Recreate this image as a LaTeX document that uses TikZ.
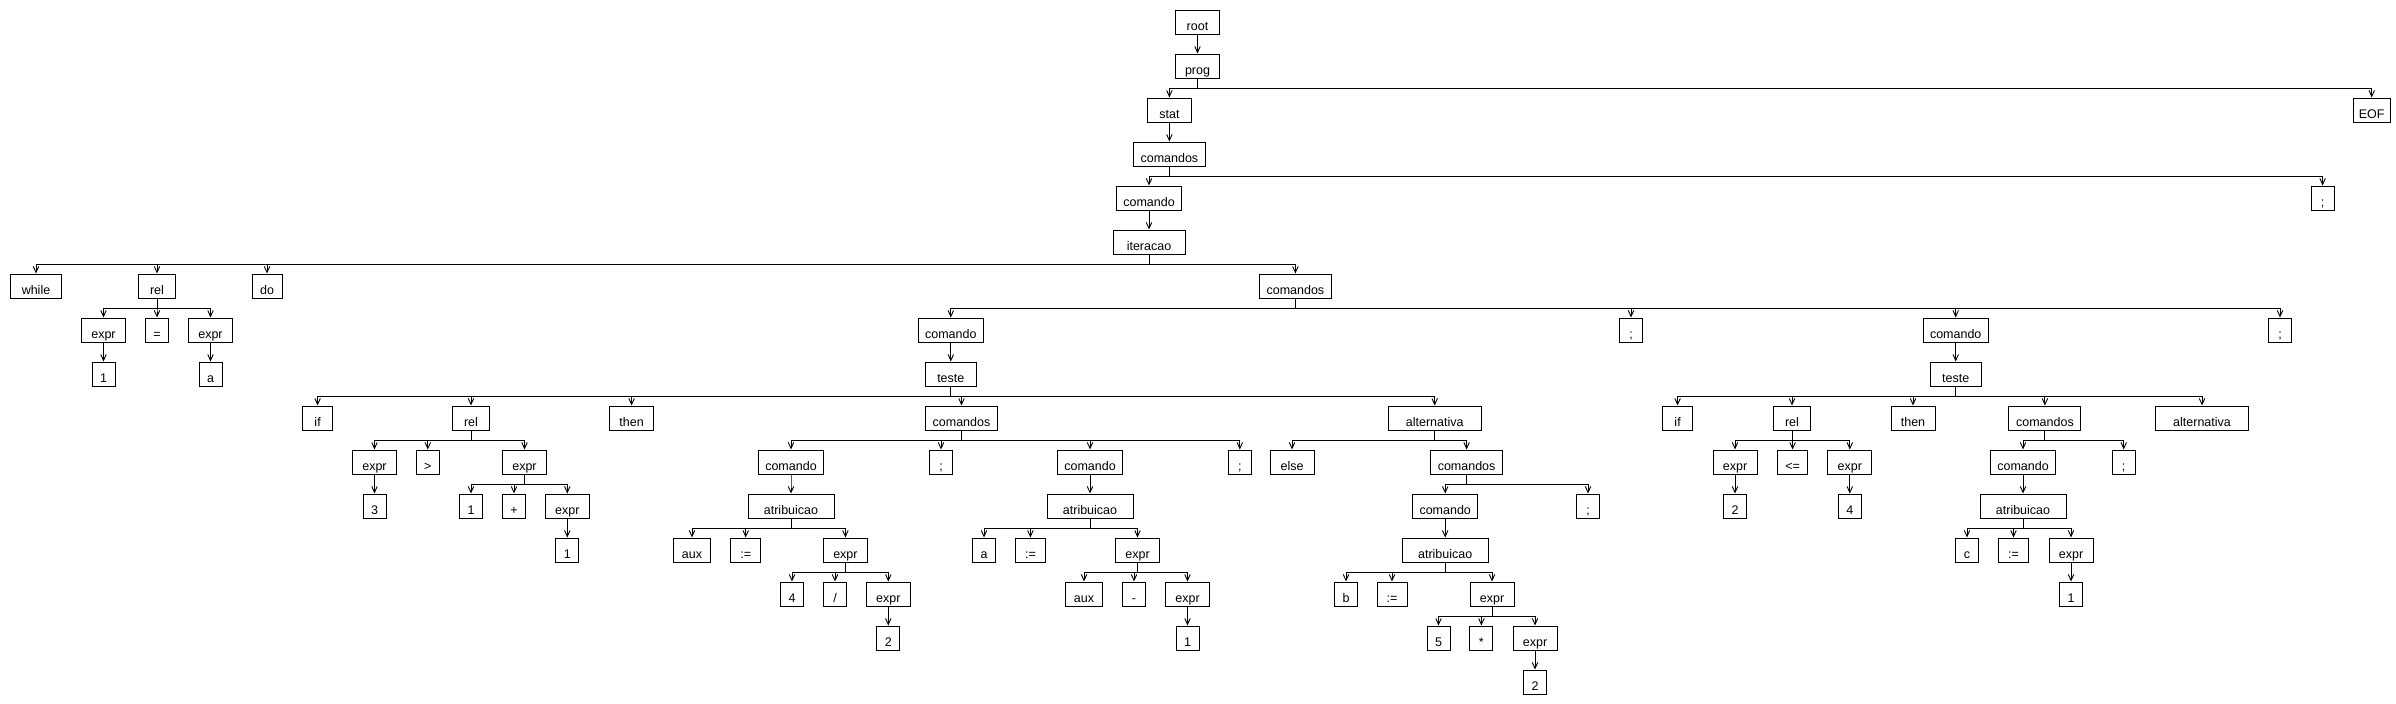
\documentclass[tikz,border=0pt]{standalone}
\usepackage{fontspec}
\setmainfont{Liberation Sans}
\usetikzlibrary{arrows.meta}
\tikzset{
  bx/.style={draw, line width=1pt, minimum width=#1, minimum height=24pt, inner sep=0pt,
    text height=16.5pt, text depth=0pt, font=\fontsize{12.5}{14}\selectfont},
  edge/.style={line width=0.9pt, -{Straight Barb[length=6pt,width=5.5pt]}}
}
\newcommand\kids[2]{\foreach \kid in {#2}{\draw[edge] (#1.south) -- ++(0,10) -| (\kid.north);}}
\begin{document}
\begin{tikzpicture}[x=1pt,y=-1pt]
\fill[white] (0,0) rectangle (2396,704);
\useasboundingbox (0,0) rectangle (2396,704);
% L0-L5
\node[bx=44] (root) at (1197.5,22) {root};
\node[bx=44] (prog) at (1197.5,66) {prog};
\node[bx=44] (stat) at (1169.4,110) {stat};
\node[bx=37] (eof) at (2371.7,110) {EOF};
\node[bx=72] (cmds1) at (1169.4,154) {comandos};
\node[bx=65] (cmd1) at (1149,198) {comando};
\node[bx=23] (semi1) at (2322.6,198) {;};
\node[bx=72] (iter) at (1149,242) {iteracao};
% L6
\node[bx=51] (while) at (36,286) {while};
\node[bx=37] (rel1) at (157,286) {rel};
\node[bx=30] (do) at (267,286) {do};
\node[bx=72] (cmds2) at (1295.4,286) {comandos};
% L7
\node[bx=44] (ex1) at (103.5,330) {expr};
\node[bx=23] (eq) at (157,330) {=};
\node[bx=44] (ex2) at (210.5,330) {expr};
\node[bx=65] (cmdA) at (950.8,330) {comando};
\node[bx=23] (semiA) at (1631,330) {;};
\node[bx=65] (cmdB) at (1955.7,330) {comando};
\node[bx=23] (semiB) at (2280,330) {;};
% L8
\node[bx=23] (one1) at (103.5,374) {1};
\node[bx=23] (aa) at (210.5,374) {a};
\node[bx=51] (tesA) at (950.8,374) {teste};
\node[bx=51] (tesB) at (1955.7,374) {teste};
% L9
\node[bx=30] (ifA) at (317.6,418) {if};
\node[bx=37] (relA) at (471,418) {rel};
\node[bx=44] (thenA) at (631.6,418) {then};
\node[bx=72] (cmdsA) at (961.5,418) {comandos};
\node[bx=93] (altA) at (1434.7,418) {alternativa};
\node[bx=30] (ifB) at (1677.6,418) {if};
\node[bx=37] (relB) at (1792,418) {rel};
\node[bx=44] (thenB) at (1913,418) {then};
\node[bx=72] (cmdsB) at (2044.9,418) {comandos};
\node[bx=93] (altB) at (2202,418) {alternativa};
% L10
\node[bx=44] (exA1) at (374.5,462) {expr};
\node[bx=23] (gt) at (427.8,462) {>};
\node[bx=44] (exA2) at (524.5,462) {expr};
\node[bx=65] (cmdA1) at (791,462) {comando};
\node[bx=23] (semiA1) at (941,462) {;};
\node[bx=65] (cmdA2) at (1090,462) {comando};
\node[bx=23] (semiA2) at (1239.8,462) {;};
\node[bx=44] (elseA) at (1292,462) {else};
\node[bx=72] (cmdsA3) at (1466.6,462) {comandos};
\node[bx=44] (exB1) at (1735,462) {expr};
\node[bx=30] (le) at (1792.6,462) {<=};
\node[bx=44] (exB2) at (1849.8,462) {expr};
\node[bx=65] (cmdB1) at (2023,462) {comando};
\node[bx=23] (semiB1) at (2123.7,462) {;};
% L11
\node[bx=23] (three) at (374.5,506) {3};
\node[bx=23] (oneA) at (471,506) {1};
\node[bx=23] (plus) at (514,506) {+};
\node[bx=44] (exA3) at (567.3,506) {expr};
\node[bx=86] (atA1) at (791,506) {atribuicao};
\node[bx=86] (atA2) at (1090,506) {atribuicao};
\node[bx=65] (cmdA3) at (1445.2,506) {comando};
\node[bx=23] (semiA3) at (1588,506) {;};
\node[bx=23] (two1) at (1735,506) {2};
\node[bx=23] (four1) at (1849.8,506) {4};
\node[bx=86] (atB1) at (2023,506) {atribuicao};
% L12
\node[bx=23] (oneB) at (567.3,550) {1};
\node[bx=37] (aux1) at (692,550) {aux};
\node[bx=30] (as1) at (745.7,550) {:=};
\node[bx=44] (exA4) at (845.4,550) {expr};
\node[bx=23] (va) at (984,550) {a};
\node[bx=30] (as2) at (1030.4,550) {:=};
\node[bx=44] (exA5) at (1137.5,550) {expr};
\node[bx=86] (atA3) at (1445.2,550) {atribuicao};
\node[bx=23] (vc) at (1967,550) {c};
\node[bx=30] (as3) at (2013.5,550) {:=};
\node[bx=44] (exB3) at (2071,550) {expr};
% L13
\node[bx=23] (four2) at (792,594) {4};
\node[bx=23] (slash) at (835,594) {/};
\node[bx=44] (exA6) at (888.3,594) {expr};
\node[bx=37] (aux2) at (1084,594) {aux};
\node[bx=23] (minus) at (1134,594) {-};
\node[bx=44] (exA7) at (1187.5,594) {expr};
\node[bx=23] (vb) at (1346,594) {b};
\node[bx=30] (as4) at (1392,594) {:=};
\node[bx=44] (exA8) at (1492,594) {expr};
\node[bx=23] (oneC) at (2071,594) {1};
% L14
\node[bx=23] (two2) at (888.3,638) {2};
\node[bx=23] (oneD) at (1187.5,638) {1};
\node[bx=23] (five) at (1438.5,638) {5};
\node[bx=23] (star) at (1481.4,638) {*};
\node[bx=44] (exA9) at (1535,638) {expr};
% L15
\node[bx=23] (two3) at (1535,682) {2};
% edges
\kids{root}{prog}
\kids{prog}{stat,eof}
\kids{stat}{cmds1}
\kids{cmds1}{cmd1,semi1}
\kids{cmd1}{iter}
\kids{iter}{while,rel1,do,cmds2}
\kids{rel1}{ex1,eq,ex2}
\kids{ex1}{one1}
\kids{ex2}{aa}
\kids{cmds2}{cmdA,semiA,cmdB,semiB}
\kids{cmdA}{tesA}
\kids{tesA}{ifA,relA,thenA,cmdsA,altA}
\kids{relA}{exA1,gt,exA2}
\kids{exA1}{three}
\kids{exA2}{oneA,plus,exA3}
\kids{exA3}{oneB}
\kids{cmdsA}{cmdA1,semiA1,cmdA2,semiA2}
\kids{cmdA1}{atA1}
\kids{atA1}{aux1,as1,exA4}
\kids{exA4}{four2,slash,exA6}
\kids{exA6}{two2}
\kids{cmdA2}{atA2}
\kids{atA2}{va,as2,exA5}
\kids{exA5}{aux2,minus,exA7}
\kids{exA7}{oneD}
\kids{altA}{elseA,cmdsA3}
\kids{cmdsA3}{cmdA3,semiA3}
\kids{cmdA3}{atA3}
\kids{atA3}{vb,as4,exA8}
\kids{exA8}{five,star,exA9}
\kids{exA9}{two3}
\kids{cmdB}{tesB}
\kids{tesB}{ifB,relB,thenB,cmdsB,altB}
\kids{relB}{exB1,le,exB2}
\kids{exB1}{two1}
\kids{exB2}{four1}
\kids{cmdsB}{cmdB1,semiB1}
\kids{cmdB1}{atB1}
\kids{atB1}{vc,as3,exB3}
\kids{exB3}{oneC}
\end{tikzpicture}
\end{document}
